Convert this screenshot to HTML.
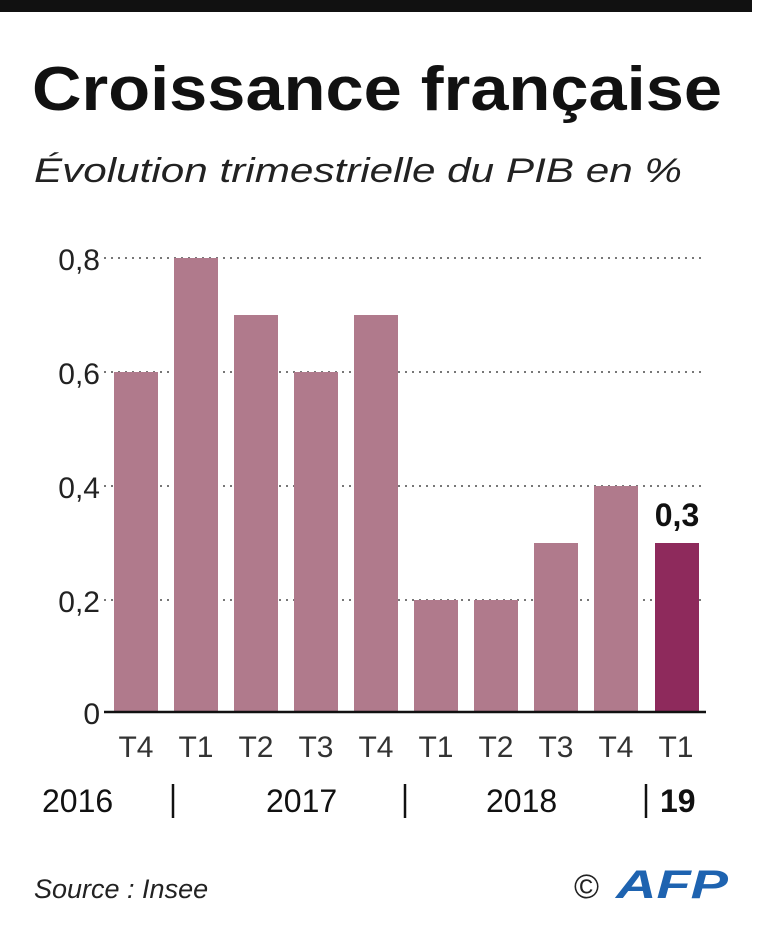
<!DOCTYPE html>
<html><head><style>
body{margin:0;background:#fff;}
svg{display:block}
</style></head><body>
<svg width="768" height="936" xmlns="http://www.w3.org/2000/svg" font-family="Liberation Sans, sans-serif">
<rect x="0" y="0" width="768" height="936" fill="#fff"/>
<rect x="0" y="0" width="752" height="12" fill="#111"/>
<text x="32" y="110" font-size="62" font-weight="bold" fill="#111" textLength="690" lengthAdjust="spacingAndGlyphs">Croissance française</text>
<text x="34" y="182" font-size="34" font-style="italic" fill="#222" textLength="648" lengthAdjust="spacingAndGlyphs">Évolution trimestrielle du PIB en %</text>
<g stroke="#777" stroke-width="2" stroke-dasharray="2,5">
<line x1="104" y1="258" x2="706" y2="258"/>
<line x1="104" y1="372" x2="706" y2="372"/>
<line x1="104" y1="486" x2="706" y2="486"/>
<line x1="104" y1="600" x2="706" y2="600"/>
</g>
<g font-size="30" fill="#222" text-anchor="end">
<text x="100" y="270">0,8</text>
<text x="100" y="384">0,6</text>
<text x="100" y="498">0,4</text>
<text x="100" y="612">0,2</text>
<text x="100" y="724">0</text>
</g>
<g fill="#b07a8c">
<rect x="114" y="372" width="44" height="340"/>
<rect x="174" y="258" width="44" height="454"/>
<rect x="234" y="315" width="44" height="397"/>
<rect x="294" y="372" width="44" height="340"/>
<rect x="354" y="315" width="44" height="397"/>
<rect x="414" y="600" width="44" height="112"/>
<rect x="474" y="600" width="44" height="112"/>
<rect x="534" y="543" width="44" height="169"/>
<rect x="594" y="486" width="44" height="226"/>
</g>
<rect x="655" y="543" width="44" height="169" fill="#8e2a5c"/>
<line x1="104" y1="712" x2="706" y2="712" stroke="#111" stroke-width="2.5"/>
<text x="677" y="526" font-size="32" font-weight="bold" fill="#111" text-anchor="middle">0,3</text>
<g font-size="30" fill="#333" text-anchor="middle">
<text x="136" y="757">T4</text><text x="196" y="757">T1</text><text x="256" y="757">T2</text>
<text x="316" y="757">T3</text><text x="376" y="757">T4</text><text x="436" y="757">T1</text>
<text x="496" y="757">T2</text><text x="556" y="757">T3</text><text x="616" y="757">T4</text>
<text x="676" y="757">T1</text>
</g>
<g font-size="32" fill="#111">
<text x="42" y="812">2016</text>
<text x="266" y="812">2017</text>
<text x="486" y="812">2018</text>
<text x="660" y="812" font-weight="bold">19</text>
</g>
<g stroke="#111" stroke-width="2.5">
<line x1="173" y1="784" x2="173" y2="818"/>
<line x1="405" y1="784" x2="405" y2="818"/>
<line x1="646" y1="784" x2="646" y2="818"/>
</g>
<text x="34" y="898" font-size="27" font-style="italic" fill="#222">Source : Insee</text>
<text x="574" y="898" font-size="34" fill="#222">©</text>
<text x="616" y="898" font-size="40" font-weight="bold" font-style="italic" fill="#1e63b0" textLength="112" lengthAdjust="spacingAndGlyphs">AFP</text>
</svg>
</body></html>
